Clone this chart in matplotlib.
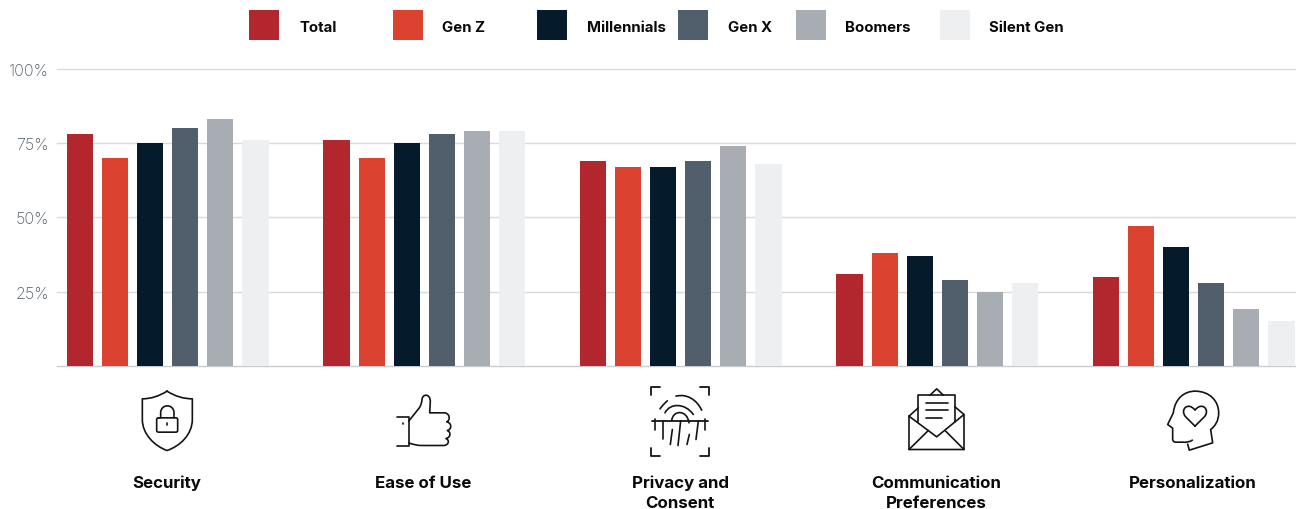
import matplotlib
matplotlib.use("Agg")
import matplotlib.pyplot as plt
import numpy as np
from matplotlib.path import Path
from matplotlib.patches import PathPatch, Rectangle

categories = ["Security", "Ease of Use", "Privacy and\nConsent", "Communication\nPreferences", "Personalization"]
series_names = ["Total", "Gen Z", "Millennials", "Gen X", "Boomers", "Silent Gen"]
total = [78, 76, 69, 31, 30]
gen_z = [70, 70, 67, 38, 47]
millennials = [75, 75, 67, 37, 40]
gen_x = [80, 78, 69, 29, 28]
boomers = [83, 79, 74, 25, 19]
silent_gen = [76, 79, 68, 28, 15]
series_values = [total, gen_z, millennials, gen_x, boomers, silent_gen]
colors = ["#B2272D", "#DB4230", "#051A2B", "#515E6B", "#A8ADB3", "#EEEFF1"]
y_ticks = [25, 50, 75, 100]
y_labels = ["25%", "50%", "75%", "100%"]

W, H = 1296, 510
FONT = "Inter"
fig = plt.figure(figsize=(W / 100, H / 100), dpi=100, facecolor="white")
ax = fig.add_axes([57 / W, (H - 366.9) / H, (W - 57) / W, 297.0 / H])
step = 256.5
ax.set_xlim((57 - 167.5) / step, (W - 167.5) / step)
ax.set_ylim(0, 100)
offsets = (np.arange(6) - 2.5) * 0.1368
for j, vals in enumerate(series_values):
    ax.bar(np.arange(5) + offsets[j] + 0.001, vals, width=0.102, color=colors[j], zorder=3)
for s in ["top", "left", "right"]:
    ax.spines[s].set_visible(False)
ax.spines["bottom"].set_color("#C9CCD0")
ax.spines["bottom"].set_linewidth(1.0)
ax.set_xticks([])
ax.set_yticks(y_ticks, y_labels, fontsize=11.6, color="#4F5A66", family=FONT, fontweight="light")
ax.tick_params(axis="y", length=0, pad=6)
ax.yaxis.grid(True, color="#D8DADD", linewidth=1.0, zorder=0)
ax.set_axisbelow(True)
for g in ax.yaxis.get_gridlines():
    g.set_clip_on(False)

# overlay in reference pixels for legend, labels and icons
ov = fig.add_axes([0, 0, 1, 1], facecolor="none")
ov.set_xlim(0, W)
ov.set_ylim(H, 0)
ov.axis("off")

swatch_x = [249, 393, 537, 678, 796, 940]
label_x = [299, 442, 587, 728, 845, 989]
for name, c, sx, lx in zip(series_names, colors, swatch_x, label_x):
    ov.add_patch(Rectangle((sx, 11), 30, 30, facecolor=c, edgecolor="none"))
    ov.text(lx, 31.5, name, fontsize=10.8, fontweight="bold", family=FONT, color="#0A0A0A", va="baseline", ha="left")

label_cx = [167, 423.5, 680, 936, 1193]
for cat, cx in zip(categories, label_cx):
    for n, line in enumerate(cat.split("\n")):
        ov.text(cx, 488 + 20 * n, line, fontsize=12.2, fontweight="bold", family=FONT, color="#0A0A0A",
                va="baseline", ha="center")

INK = "#141414"
LW = 1.2

def stroke(ops, ox, oy, k=3.0, lw=LW):
    """ops: list of ('M'|'L'|'Q'|'C', points...) in zoomed crop coordinates"""
    verts, codes = [], []
    cm = {"M": [Path.MOVETO], "L": [Path.LINETO], "Q": [Path.CURVE3] * 2, "C": [Path.CURVE4] * 3}
    for op in ops:
        pts = op[1:]
        for p, c in zip(pts, cm[op[0]]):
            verts.append((ox + p[0] / k, oy + p[1] / k))
            codes.append(c)
    ov.add_patch(PathPatch(Path(verts, codes), fill=False, edgecolor=INK, linewidth=lw,
                           capstyle="round", joinstyle="round"))

def seg(a, b, ox, oy, lw=LW):
    stroke([("M", a), ("L", b)], ox, oy, lw=lw)

# Shield + lock
ox, oy = 120, 380.5
stroke([("M", (141, 35)), ("Q", (105, 58), (67, 58)), ("L", (67, 120)),
        ("C", (67, 165), (105, 200), (141, 213)), ("C", (180, 200), (217, 165), (217, 120)),
        ("L", (217, 58)), ("Q", (177, 58), (141, 35))], ox, oy)
stroke([("M", (116, 115)), ("L", (168, 115)), ("Q", (173, 115), (173, 120)), ("L", (173, 153)),
        ("Q", (173, 158), (168, 158)), ("L", (116, 158)), ("Q", (110, 158), (110, 153)),
        ("L", (110, 120)), ("Q", (110, 115), (116, 115))], ox, oy)
stroke([("M", (122, 115)), ("L", (122, 100)), ("C", (122, 72), (162, 72), (162, 100)), ("L", (162, 115))], ox, oy)
seg((141, 130), (141, 137), ox, oy)

# Thumb up
stroke([("M", (830, 112)), ("L", (866, 112)), ("L", (866, 200)), ("L", (830, 200))], ox, oy)
seg((848, 129), (848, 132), ox, oy)
stroke([("M", (866, 125)), ("L", (898, 85)), ("Q", (905, 75), (906, 60)), ("C", (908, 42), (930, 42), (931, 65)),
        ("L", (929, 100)), ("L", (972, 100)), ("C", (990, 100), (992, 122), (980, 127)),
        ("C", (996, 130), (996, 150), (982, 153)), ("C", (994, 158), (992, 174), (978, 177)),
        ("C", (990, 182), (986, 198), (970, 198)), ("L", (905, 198)), ("Q", (885, 198), (866, 190))], ox, oy)

# Fingerprint
ox, oy = 630, 380.5
for p in [((90, 22), (62, 22), (62, 45)), ((210, 22), (238, 22), (238, 45)),
          ((90, 228), (62, 228), (62, 205)), ((210, 228), (238, 228), (238, 205))]:
    stroke([("M", p[0]), ("L", p[1]), ("L", p[2])], ox, oy, lw=1.3)
seg((65, 124), (235, 124), ox, oy, lw=1.3)
stroke([("M", (125, 124)), ("C", (128, 90), (172, 90), (177, 130))], ox, oy)
stroke([("M", (105, 100)), ("C", (120, 70), (165, 70), (190, 105))], ox, oy)
stroke([("M", (90, 88)), ("C", (100, 75), (105, 70), (112, 64))], ox, oy)
stroke([("M", (138, 50)), ("C", (170, 42), (200, 60), (215, 92))], ox, oy)
for a, b in [((76, 118), (76, 150)), ((100, 124), (100, 178)), ((127, 150), (121, 195)),
             ((152, 124), (144, 198)), ((178, 165), (171, 195)), ((205, 124), (198, 180)),
             ((225, 118), (225, 152))]:
    seg(a, b, ox, oy)

# Envelope
stroke([("M", (837, 110)), ("L", (837, 210)), ("L", (1002, 210)), ("L", (1002, 105)),
        ("L", (920, 172)), ("L", (837, 110))], ox, oy)
stroke([("M", (865, 128)), ("L", (865, 47)), ("L", (975, 47)), ("L", (975, 128))], ox, oy)
stroke([("M", (900, 47)), ("L", (920, 28)), ("L", (940, 47))], ox, oy)
seg((837, 110), (865, 85), ox, oy)
seg((975, 82), (1002, 105), ox, oy)
seg((837, 210), (895, 153), ox, oy)
seg((1002, 210), (945, 153), ox, oy)
seg((887, 70), (955, 70), ox, oy)
seg((887, 92), (955, 92), ox, oy)
seg((887, 114), (935, 114), ox, oy)

# Head + heart
ox, oy = 1120, 380.5
stroke([("M", (217, 182)), ("Q", (205, 190), (190, 188)), ("L", (168, 188)), ("Q", (158, 188), (158, 178)),
        ("L", (158, 146)), ("L", (143, 135)), ("L", (160, 100)),
        ("C", (165, 55), (195, 35), (225, 35)), ("C", (270, 35), (296, 65), (296, 100)),
        ("C", (296, 125), (285, 140), (272, 150)), ("L", (278, 190)), ("L", (208, 212)), ("L", (203, 194))], ox, oy)
stroke([("M", (225, 140)), ("L", (197, 112)), ("C", (178, 90), (205, 65), (225, 92)),
        ("C", (245, 65), (272, 90), (253, 112)), ("L", (225, 140))], ox, oy)

fig.savefig("out.png", dpi=100, facecolor="white")
